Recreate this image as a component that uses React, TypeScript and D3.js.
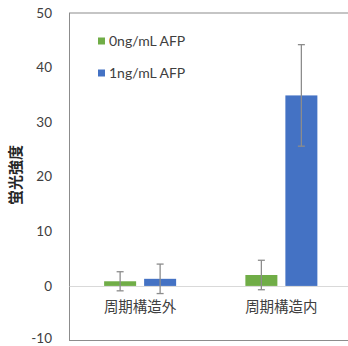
import React from "react";
import * as d3 from "d3";

const categories = ["周期構造外", "周期構造内"];
const seriesNames = ["0ng/mL AFP", "1ng/mL AFP"];
const seriesColors = ["#70ad47", "#4472c4"];
const values0 = [0.85, 2.0];
const values1 = [1.3, 34.9];
const errors0 = [1.75, 2.7];
const errors1 = [2.7, 9.3];
const yTicks = [-10, 0, 10, 20, 30, 40, 50];

const W = 348;
const H = 346;
const left = 69.5;
const right = 352;
const top = 13;
const bottom = 340.5;

export default function App() {
  const y = d3.scaleLinear().domain([-10, 50]).range([bottom, top]);
  const x0 = d3.scaleBand<string>().domain(categories).range([left, right]);
  const barW = 32;
  const gap = 8;
  const series = [
    { vals: values0, errs: errors0 },
    { vals: values1, errs: errors1 },
  ];
  const font = "Lato, 'Open Sans', sans-serif";
  const cjk = "'Noto Sans CJK JP', sans-serif";

  return (
    <svg
      width={W}
      height={H}
      style={{ position: "absolute", left: 0, top: 0, background: "#fff" }}
    >
      {/* plot frame */}
      <rect
        x={left}
        y={top}
        width={right - left}
        height={bottom - top}
        fill="none"
        stroke="#8c8c8c"
        strokeWidth={1}
      />
      {/* zero line */}
      <line
        x1={left}
        x2={right}
        y1={Math.round(y(0)) + 0.5}
        y2={Math.round(y(0)) + 0.5}
        stroke="#d9d9d9"
        strokeWidth={1}
      />
      {/* y tick labels (the lowest one kept inside the canvas) */}
      {yTicks.map((t) => (
        <text
          key={t}
          x={52}
          y={Math.min(y(t), H - 8)}
          dy="0.35em"
          textAnchor="end"
          fontFamily={font}
          fontSize={13.5}
          fill="#404040"
        >
          {t}
        </text>
      ))}
      {/* y axis title */}
      <text
        transform={`translate(21,${175}) rotate(-90)`}
        textAnchor="middle"
        fontFamily={cjk}
        fontWeight="bold"
        fontSize={15}
        fill="#262626"
      >
        蛍光強度
      </text>
      {/* bars */}
      {categories.map((c, ci) => {
        const cx = (x0(c) as number) + x0.bandwidth() / 2;
        return series.map((s, si) => {
          const bx = si === 0 ? cx - gap / 2 - barW : cx + gap / 2;
          const v = s.vals[ci];
          const e = s.errs[ci];
          const mx = bx + barW / 2;
          return (
            <g key={`${ci}-${si}`}>
              <rect
                x={bx}
                y={Math.min(y(v), y(0))}
                width={barW}
                height={Math.abs(y(0) - y(v))}
                fill={seriesColors[si]}
              />
              <line x1={mx} x2={mx} y1={y(v + e)} y2={y(v - e)} stroke="#8c8c8c" strokeWidth={1.3} />
              <line x1={mx - 3.5} x2={mx + 3.5} y1={y(v + e)} y2={y(v + e)} stroke="#8c8c8c" strokeWidth={1.3} />
              <line x1={mx - 3.5} x2={mx + 3.5} y1={y(v - e)} y2={y(v - e)} stroke="#8c8c8c" strokeWidth={1.3} />
            </g>
          );
        });
      })}
      {/* category labels */}
      {categories.map((c) => (
        <text
          key={c}
          x={(x0(c) as number) + x0.bandwidth() / 2}
          y={307}
          dy="0.35em"
          textAnchor="middle"
          fontFamily={cjk}
          fontSize={14.5}
          fill="#404040"
        >
          {c}
        </text>
      ))}
      {/* legend */}
      {seriesNames.map((n, i) => (
        <g key={n} transform={`translate(98,${41 + i * 32})`}>
          <rect x={0} y={-3.5} width={7} height={7} fill={seriesColors[i]} />
          <text x={11} y={0} dy="0.35em" fontFamily={font} fontSize={14} fill="#404040">
            {n}
          </text>
        </g>
      ))}
    </svg>
  );
}
